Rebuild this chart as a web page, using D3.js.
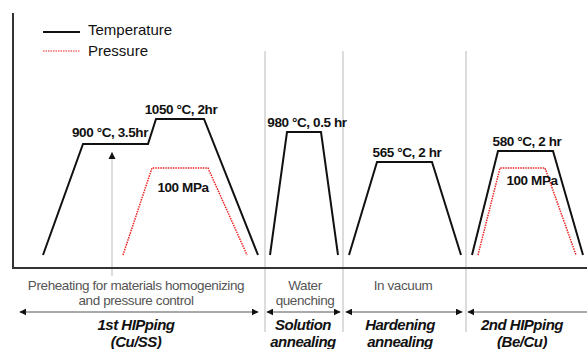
<!DOCTYPE html>
<html>
<head>
<meta charset="utf-8">
<script src="https://cdn.jsdelivr.net/npm/d3@7"></script>
<style>
  body { margin: 0; background: #fff; }
  text { font-family: "Liberation Sans", Arial, sans-serif; }
</style>
</head>
<body>
<div id="chart"></div>
<script>
// schematic time units (x) and level units (y)
var tempSegments = [
    [[30, 0], [70, 111], [135, 111], [143, 136], [191, 136], [245, 0]],
    [[257, 0], [274, 123], [308, 123], [325, 0]],
    [[336, 0], [364, 93], [419, 93], [448, 0]],
    [[459, 0], [485, 104], [540, 104], [570, 0]]
];
var pressureSegments = [
    [[110, 0], [139, 87], [195, 87], [234, 0]],
    [[465, 0], [487, 87], [532, 87], [563, 0]]
];
var tempLabels = ["900 \u00B0C, 3.5hr", "1050 \u00B0C, 2hr", "980 \u00B0C, 0.5 hr", "565 \u00B0C, 2 hr", "580 \u00B0C, 2 hr"];
var tempLabelPos = [[97, 118], [168, 141], [294, 128], [394, 98], [514, 109]];
var pressureLabel = "100 MPa";
var pressureLabelPos = [[170, 63], [519, 70]];
var separators = [252, 330, 453];
var stageNames = [["1st HIPping", "(Cu/SS)"], ["Solution", "annealing"], ["Hardening", "annealing"], ["2nd HIPping", "(Be/Cu)"]];
var stageSpans = [[7, 245], [254, 327], [333, 449], [455, 580]];
var stageNotes = [["Preheating for materials homogenizing", "and pressure control"], ["Water", "quenching"], ["In vacuum"], []];
var noteCenters = [123, 292, 390, 520];
var stageCenters = [123, 290, 387, 509];

var width = 587, height = 349;

var svg = d3.select("#chart")
    .append("svg")
    .attr("width", width)
    .attr("height", height);

var x = d3.scaleLinear().domain([0, 574]).range([13, 587]);
var y = d3.scaleLinear().domain([0, 242]).range([255, 13]);

var line = d3.line()
    .x(function(d) { return x(d[0]); })
    .y(function(d) { return y(d[1]); });

// arrow markers
var defs = svg.append("defs");
defs.append("marker")
    .attr("id", "head")
    .attr("viewBox", "0 0 10 10")
    .attr("refX", 9).attr("refY", 5)
    .attr("markerWidth", 7).attr("markerHeight", 7)
    .attr("markerUnits", "userSpaceOnUse")
    .attr("orient", "auto-start-reverse")
    .append("path")
    .attr("d", "M0,0 L10,5 L0,10 Z")
    .attr("fill", "#111");

// grey separators
svg.selectAll(".sep")
    .data(separators)
    .enter()
    .append("line")
    .attr("x1", function(d) { return x(d); })
    .attr("x2", function(d) { return x(d); })
    .attr("y1", 51)
    .attr("y2", 332)
    .attr("stroke", "#d0d0d0")
    .attr("stroke-width", 1.5);

// upward arrow under first plateau
svg.append("line")
    .attr("x1", x(99)).attr("x2", x(99))
    .attr("y1", 276).attr("y2", 152)
    .attr("stroke", "#bbb")
    .attr("stroke-width", 1);
svg.append("path")
    .attr("d", "M" + (x(99) - 3.5) + ",159 L" + x(99) + ",152 L" + (x(99) + 3.5) + ",159 Z")
    .attr("fill", "#111");

// axes
svg.append("line")
    .attr("x1", 13).attr("x2", 13).attr("y1", 13).attr("y2", 269)
    .attr("stroke", "#333").attr("stroke-width", 2);
svg.append("line")
    .attr("x1", 12).attr("x2", width).attr("y1", 268).attr("y2", 268)
    .attr("stroke", "#333").attr("stroke-width", 2);

// pressure
svg.selectAll(".pres")
    .data(pressureSegments)
    .enter()
    .append("path")
    .attr("d", line)
    .attr("fill", "none")
    .attr("stroke", "#ee2222")
    .attr("stroke-width", 1.5)
    .attr("stroke-dasharray", "1.5,1");

// temperature
svg.selectAll(".temp")
    .data(tempSegments)
    .enter()
    .append("path")
    .attr("d", line)
    .attr("fill", "none")
    .attr("stroke", "#111")
    .attr("stroke-width", 2);

// labels
svg.selectAll(".tlab")
    .data(tempLabels)
    .enter()
    .append("text")
    .attr("x", function(d, i) { return x(tempLabelPos[i][0]); })
    .attr("y", function(d, i) { return y(tempLabelPos[i][1]); })
    .attr("text-anchor", "middle")
    .attr("font-size", 13.5)
    .attr("font-weight", "bold")
    .attr("letter-spacing", -0.4)
    .attr("fill", "#111")
    .text(function(d) { return d; });

svg.selectAll(".plab")
    .data(pressureLabelPos)
    .enter()
    .append("text")
    .attr("x", function(d) { return x(d[0]); })
    .attr("y", function(d) { return y(d[1]); })
    .attr("text-anchor", "middle")
    .attr("font-size", 13.5)
    .attr("font-weight", "bold")
    .attr("letter-spacing", -0.4)
    .attr("fill", "#111")
    .text(pressureLabel);

// legend
svg.append("line")
    .attr("x1", 43).attr("x2", 80).attr("y1", 32).attr("y2", 32)
    .attr("stroke", "#111").attr("stroke-width", 2);
svg.append("line")
    .attr("x1", 43).attr("x2", 80).attr("y1", 51).attr("y2", 51)
    .attr("stroke", "#ee2222").attr("stroke-width", 1.2)
    .attr("stroke-dasharray", "1.5,1");
svg.append("text").attr("x", 88).attr("y", 35)
    .attr("font-size", 15).attr("fill", "#111").text("Temperature");
svg.append("text").attr("x", 88).attr("y", 56)
    .attr("font-size", 15).attr("fill", "#111").text("Pressure");

// stage notes
stageNotes.forEach(function(lines, i) {
    lines.forEach(function(t, j) {
        svg.append("text")
            .attr("x", x(noteCenters[i]))
            .attr("y", 290 + j * 15)
            .attr("text-anchor", "middle")
            .attr("font-size", 13.5)
            .attr("letter-spacing", -0.4)
            .attr("fill", "#555")
            .text(t);
    });
});

// stage arrows
svg.selectAll(".span")
    .data(stageSpans)
    .enter()
    .append("line")
    .attr("x1", function(d) { return x(d[0]); })
    .attr("x2", function(d) { return x(d[1]); })
    .attr("y1", 312)
    .attr("y2", 312)
    .attr("stroke", "#555")
    .attr("stroke-width", 1.2)
    .attr("marker-start", "url(#head)")
    .attr("marker-end", "url(#head)");

// stage names
stageNames.forEach(function(lines, i) {
    lines.forEach(function(t, j) {
        svg.append("text")
            .attr("x", x(stageCenters[i]))
            .attr("y", 330 + j * 17)
            .attr("text-anchor", "middle")
            .attr("font-size", 15)
            .attr("font-weight", "bold")
            .attr("font-style", "italic")
            .attr("letter-spacing", -0.5)
            .attr("fill", "#111")
            .text(t);
    });
});
</script>
</body>
</html>
